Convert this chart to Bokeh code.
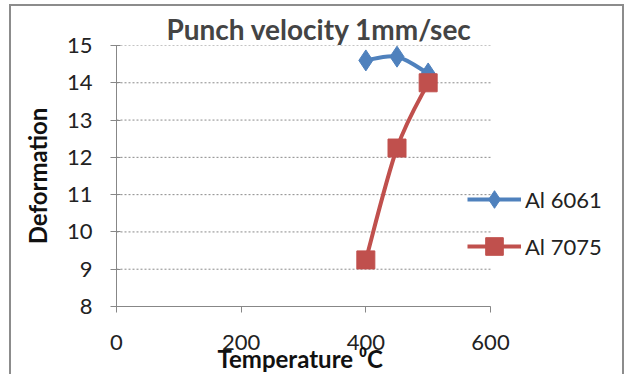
import numpy as np
from bokeh.plotting import figure
from bokeh.models import Range1d, FixedTicker, Legend, LegendItem, Title
from bokeh.embed import file_html
from bokeh.resources import INLINE

title_text = "Punch velocity 1mm/sec"
x_label = "Temperature \u2070C"
y_label = "Deformation"

temps = [400, 450, 500]
al6061 = [14.6, 14.7, 14.25]
al7075 = [9.25, 12.25, 14.0]
x_ticks = [0, 200, 400, 600]
y_ticks = [8, 9, 10, 11, 12, 13, 14, 15]

BLUE = "#4F81BD"
RED = "#C0504D"
FONT = "Lato"

# layout: axis 0..600 spans 374 px; frame continues to the right to host the legend
FIG_W, FIG_H = 615, 370
LEFT, TOP, BOTTOM = 105, 39, 70
AXIS_PX = 374
frame_w = FIG_W - LEFT
x_max = x_ticks[-1] * frame_w / AXIS_PX

p = figure(width=FIG_W, height=FIG_H, output_backend="svg", toolbar_location=None,
           x_range=Range1d(0, x_max), y_range=Range1d(y_ticks[0], y_ticks[-1]),
           min_border_left=LEFT, min_border_right=0, min_border_top=TOP, min_border_bottom=BOTTOM)
p.styles = {"margin-left": "9px", "margin-top": "4px",
            "border-left": "2px solid #8c8c8c", "border-top": "2px solid #8c8c8c",
            "border-right": "2px solid #8c8c8c"}

p.title.text = title_text
p.title.align = "left"
p.title.offset = 50
p.title.text_font = FONT
p.title.text_font_size = "28px"
p.title.text_font_style = "bold"
p.title.standoff = 0
p.outline_line_color = None

p.xaxis.ticker = FixedTicker(ticks=x_ticks)
p.yaxis.ticker = FixedTicker(ticks=y_ticks)
p.xaxis.bounds = (x_ticks[0], x_ticks[-1])
for ax in (p.xaxis[0], p.yaxis[0]):
    ax.axis_line_color = "#878787"
    ax.major_tick_line_color = "#878787"
    ax.minor_tick_line_color = None
    ax.major_label_text_font = FONT
    ax.major_label_text_font_size = "22px"
    ax.major_label_text_color = "#222222"
    ax.axis_label_text_font = FONT
    ax.axis_label_text_font_size = "24px"
    ax.axis_label_text_font_style = "bold"
    ax.axis_label_text_color = "#111111"
    ax.major_label_standoff = 18
p.xaxis.major_label_standoff = 22
p.xaxis.major_tick_in = 0
p.xaxis.major_tick_out = 6
p.yaxis.major_tick_in = 4
p.yaxis.major_tick_out = 6
p.yaxis.axis_label = y_label
p.yaxis.axis_label_standoff = 12

# x-axis label as a below-panel title, so it can sit under the 0..600 span
xt = Title(text=x_label, align="left", offset=101, standoff=-21,
           text_font=FONT, text_font_size="24px", text_font_style="bold",
           text_color="#111111")
p.add_layout(xt, "below")

p.xgrid.grid_line_color = None
p.ygrid.grid_line_color = None
p.segment(x0=[x_ticks[0]] * len(y_ticks), x1=[x_ticks[-1]] * len(y_ticks),
          y0=y_ticks, y1=y_ticks, line_color="#8a8a8a", line_dash="2 2", line_width=1)


def smooth(xs, ys):
    xs = np.asarray(xs, float)
    ys = np.asarray(ys, float)
    px = np.concatenate([[xs[0]], xs, [xs[-1]]])
    py = np.concatenate([[ys[0]], ys, [ys[-1]]])
    x0, y0, x1, y1, cx0, cy0, cx1, cy1 = [], [], [], [], [], [], [], []
    for i in range(1, len(px) - 2):
        x0.append(px[i]); y0.append(py[i])
        x1.append(px[i + 1]); y1.append(py[i + 1])
        cx0.append(px[i] + (px[i + 1] - px[i - 1]) / 6)
        cy0.append(py[i] + (py[i + 1] - py[i - 1]) / 6)
        cx1.append(px[i + 1] - (px[i + 2] - px[i]) / 6)
        cy1.append(py[i + 1] - (py[i + 2] - py[i]) / 6)
    return dict(x0=x0, y0=y0, x1=x1, y1=y1, cx0=cx0, cy0=cy0, cx1=cx1, cy1=cy1)


b1 = p.bezier(**smooth(temps, al6061), line_color=BLUE, line_width=4)
s1 = p.scatter(temps, al6061, marker="diamond", size=21, fill_color=BLUE, line_color=BLUE)
b2 = p.bezier(**smooth(temps, al7075), line_color=RED, line_width=4)
s2 = p.scatter(temps, al7075, marker="square", size=18, fill_color=RED, line_color=RED)

# legend glyph proxies
l1 = p.line(temps[:2], al6061[:2], line_color=BLUE, line_width=4, visible=False)
l2 = p.line(temps[:2], al7075[:2], line_color=RED, line_width=4, visible=False)
legend = Legend(items=[LegendItem(label="Al 6061", renderers=[l1, s1]),
                       LegendItem(label="Al 7075", renderers=[l2, s2])],
                location=(351, 38), orientation="vertical")
legend.border_line_color = None
legend.background_fill_alpha = 0
legend.padding = 0
legend.margin = 0
legend.glyph_width = 54
legend.glyph_height = 44
legend.label_height = 26
legend.spacing = 3
legend.label_standoff = 4
legend.label_text_font = FONT
legend.label_text_font_size = "22px"
legend.label_text_color = "#222222"
p.add_layout(legend, "center")

open("out.html", "w").write(file_html(p, INLINE))
